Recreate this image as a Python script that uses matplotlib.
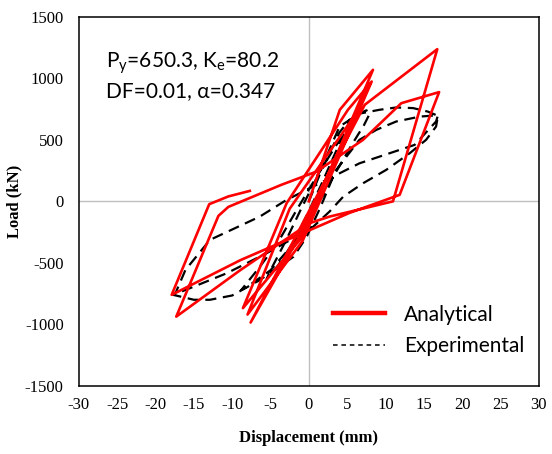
import numpy as np
import matplotlib.pyplot as plt

plt.rcParams['axes.unicode_minus'] = False

# analytical model response (displacement mm, load kN)
ana_disp = [0.0, 4.04, 8.37, -1.0, -8.6, -2.9, 5.1, 8.2, -0.8, -8.0, -2.5, 6.2, 8.0,
            -1.2, -7.6, 7.3, 16.76,
            10.98, 2.7, 0.1, -8.9, -17.3, -11.8, -10.5, -3.6, 1.0, 7.07, 12.07, 17.0,
            11.85, 5.3, -8.9, -17.9, -13.0, -10.5, -7.7]
ana_load = [0, 744, 1069, -300, -868, -15, 744, 974, -320, -920, -60, 717, 960,
            -280, -985, 785, 1237,
            0, -124, -177, -557, -937, -118, -45, 134, 242, 500, 798, 888,
            53, -94, -477, -760, -23, 40, 85]

# test record
exp_disp = [0.0, 1.5, 3.0, 4.0, 5.3, 5.0, 3.5, 1.5, 0.0, -2.0, -4.0, -5.5, -5.0, -3.0, -1.0,
            1.5, 4.0, 6.6, 7.5, 8.0, 7.2, 5.5, 3.0, 0.5, -2.5, -5.0, -7.7, -8.8, -8.3, -6.5,
            -4.0, -1.5, 1.0, 3.5, 6.6, 9.2, 11.4, 13.6, 15.5, 16.85, 16.6, 15.3, 13.2, 10.1,
            7.1, 4.5, 2.7, -0.3, -1.6, -5.5, -10.7, -15.0, -17.7, -15.0, -12.9, -10.0, -6.4,
            -2.0, -0.3, 1.5, 3.5, 6.6, 8.8, 11.4, 14.5, 16.85, 16.6, 13.8, 6.6, -2.9, -6.4,
            -12.9, -16.1, -17.4]
exp_load = [0, 230, 430, 560, 663, 600, 400, 120, -80, -330, -520, -630, -560, -320, -60,
            250, 608, 713, 740, 720, 620, 450, 180, -100, -380, -560, -679, -720, -680, -540,
            -330, -60, 200, 450, 713, 744, 763, 758, 730, 695, 608, 500, 393, 256,
            148, 39, -83, -256, -286, -421, -584, -693, -760, -800, -800, -765, -640,
            -450, -290, -50, 250, 500, 581, 649, 689, 700, 649, 459, 309, 12, -124,
            -313, -557, -746]

x_ticks = np.arange(-30, 31, 5)
y_ticks = np.arange(-1500, 1501, 500)

fig = plt.figure(figsize=(5.52, 4.54), dpi=100)
ax = fig.add_axes([0.143, 0.150, 0.833, 0.813])

ax.axhline(0, color='#bfbfbf', lw=1, zorder=1)
ax.axvline(0, color='#bfbfbf', lw=1, zorder=1)

ax.plot(exp_disp, exp_load, color='black', lw=1.6, linestyle=(0, (5, 3)),
        label='Experimental', zorder=2)
ax.plot(ana_disp, ana_load, color='red', lw=1.9, label='Analytical', zorder=3)

ax.set_xlim(-30, 30)
ax.set_ylim(-1500, 1500)
ax.set_xticks(x_ticks)
ax.set_yticks(y_ticks)
ax.tick_params(length=0, labelsize=12)
ax.tick_params(axis='y', pad=11)
ax.tick_params(axis='x', pad=8)
for lab in ax.get_xticklabels() + ax.get_yticklabels():
    lab.set_family('Liberation Serif')
for s in ax.spines.values():
    s.set_linewidth(1.1)

ax.set_xlabel('Displacement (mm)', family='Liberation Serif', fontweight='bold', fontsize=12, labelpad=12)
ax.set_ylabel('Load (kN)', family='Liberation Serif', fontweight='bold', fontsize=12, labelpad=2)

ax.text(-26.5, 1120, r'P$_\mathregular{y}$=650.3, K$_\mathregular{e}$=80.2', family='Lato', fontsize=15,
        va='center')
ax.text(-26.5, 895, 'DF=0.01, α=0.347', family='Lato', fontsize=15, va='center')

h, l = ax.get_legend_handles_labels()
leg = ax.legend(h[::-1], l[::-1], loc='lower right', bbox_to_anchor=(1.01, 0.03), frameon=False,
                prop={'family': 'Lato', 'size': 15}, handlelength=2.5, handletextpad=0.9,
                labelspacing=0.55)
leg.legend_handles[0].set_linewidth(3.2)
leg.legend_handles[1].set_linewidth(1.1)
leg.legend_handles[1].set_dashes((3, 2.5))

fig.savefig('out.png', dpi=100)
